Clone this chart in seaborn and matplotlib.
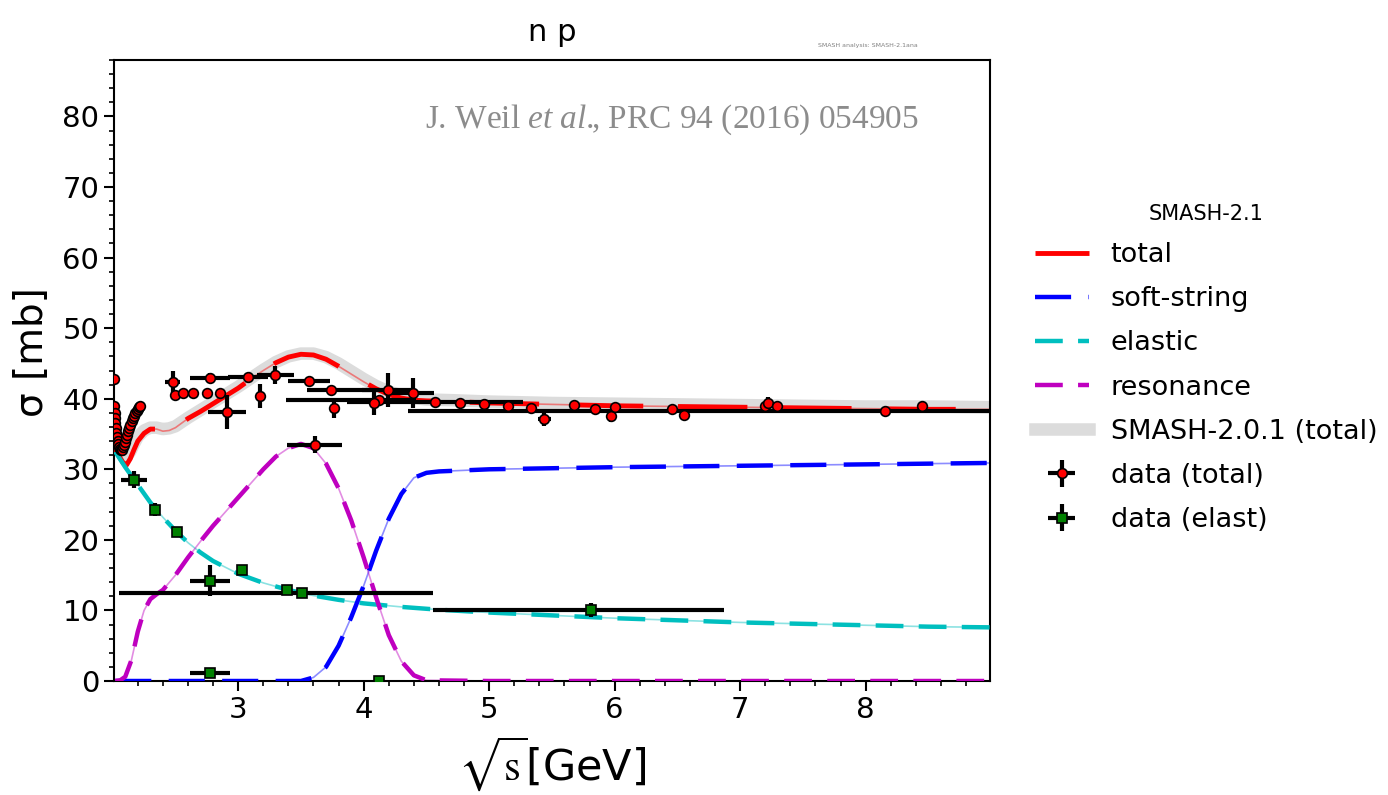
import matplotlib
matplotlib.use('Agg')
import matplotlib.pyplot as plt
import seaborn as sns
from matplotlib.ticker import MultipleLocator

# curvas del modelo (SMASH-2.1)
x_total = [2.02, 2.05, 2.08, 2.11, 2.14, 2.17, 2.2, 2.25, 2.3, 2.35, 2.4, 2.45, 2.5, 2.6, 2.7,
           2.8, 2.9, 3.0, 3.1, 3.2, 3.3, 3.4, 3.5, 3.6, 3.7, 3.8, 3.9, 4.0, 4.1, 4.2, 4.3,
           4.4, 4.5, 4.7, 5.0, 5.5, 6.0, 6.5, 7.0, 7.5, 8.0, 8.5, 9.0]
y_total = [33.0, 31.9, 31.0, 30.6, 31.5, 32.8, 34.0, 35.1, 35.7, 35.7, 35.4, 35.5, 35.9, 37.2, 38.2,
           39.3, 40.4, 41.5, 42.8, 44.0, 45.1, 45.9, 46.3, 46.2, 45.6, 44.6, 43.5, 42.4, 41.4, 40.6, 40.1,
           39.8, 39.7, 39.6, 39.4, 39.2, 39.0, 38.9, 38.8, 38.7, 38.6, 38.5, 38.5]

# SMASH-2.0.1 (total), banda gris
y_old = [34.5, 33.0, 32.0, 31.8, 32.5, 33.6, 34.6, 35.5, 35.9, 35.9, 35.7, 35.8, 36.1, 37.3, 38.4,
         39.5, 40.6, 41.7, 42.9, 44.1, 45.2, 46.0, 46.4, 46.4, 45.9, 45.0, 43.9, 42.8, 41.8, 41.0, 40.5,
         40.1, 39.9, 39.8, 39.6, 39.4, 39.3, 39.2, 39.1, 39.0, 38.9, 38.9, 38.8]

x_string = [2.02, 3.5, 3.6, 3.7, 3.8, 3.9, 4.0, 4.1, 4.2, 4.3, 4.4, 4.5, 4.6, 5.0, 6.0, 7.0, 8.0, 9.0]
y_string = [0.0, 0.0, 0.5, 2.0, 5.0, 9.0, 13.5, 18.5, 23.0, 26.5, 28.8, 29.5, 29.7, 30.0, 30.3, 30.5, 30.7, 30.9]

x_elastic = [2.02, 2.1, 2.2, 2.3, 2.4, 2.5, 2.6, 2.7, 2.8, 3.0, 3.2, 3.4, 3.6, 3.8, 4.0, 4.3, 4.6,
             5.0, 5.5, 6.0, 6.5, 7.0, 7.5, 8.0, 8.5, 9.0]
y_elastic = [32.5, 30.3, 27.8, 25.3, 23.2, 21.3, 19.6, 18.2, 17.0, 15.2, 13.9, 12.9, 12.1, 11.5, 11.0, 10.5, 10.1,
             9.7, 9.3, 8.9, 8.6, 8.3, 8.1, 7.9, 7.7, 7.6]

x_reson = [2.02, 2.06, 2.1, 2.15, 2.2, 2.25, 2.3, 2.35, 2.4, 2.5, 2.6, 2.7, 2.8, 2.9, 3.0, 3.1, 3.2,
           3.3, 3.4, 3.5, 3.6, 3.7, 3.8, 3.9, 4.0, 4.1, 4.2, 4.3, 4.4, 4.5, 5.0, 6.0, 7.0, 8.0, 9.0]
y_reson = [0.0, 0.1, 0.6, 3.0, 7.0, 10.0, 11.6, 12.3, 12.9, 15.0, 17.5, 19.8, 22.0, 24.0, 26.0, 28.0, 30.0,
           31.8, 33.0, 33.6, 33.0, 30.8, 27.3, 22.8, 17.5, 11.8, 6.5, 2.8, 0.8, 0.1, 0.0, 0.0, 0.0, 0.0, 0.0]

# datos experimentales (total)
dat_tot_x = [2.01, 2.012, 2.015, 2.018, 2.022, 2.026, 2.03, 2.035, 2.04, 2.046, 2.053, 2.06, 2.068, 2.076,
             2.084, 2.092, 2.1, 2.108, 2.116, 2.124, 2.132, 2.14, 2.15, 2.16, 2.17, 2.18, 2.19, 2.2, 2.21,
             2.22, 2.48, 2.495, 2.56, 2.64, 2.75, 2.855, 2.775, 2.909, 3.08, 3.176, 3.296, 3.563, 3.61,
             3.737, 3.763, 4.12, 4.08, 4.19, 4.39, 4.566, 4.765, 4.96, 5.15, 5.33, 5.44, 5.673, 5.84,
             5.97, 6.0, 6.46, 6.55, 7.196, 7.22, 7.29, 8.15, 8.45]
dat_tot_y = [42.8, 38.9, 38.0, 37.2, 36.5, 35.8, 35.2, 34.6, 34.0, 33.6, 33.2, 32.9, 32.7, 32.8,
             33.1, 33.5, 33.9, 34.4, 34.9, 35.4, 35.9, 36.3, 36.8, 37.2, 37.6, 38.0, 38.3, 38.6, 38.8,
             38.9, 42.4, 40.6, 40.8, 40.8, 40.8, 40.8, 43.0, 38.1, 43.1, 40.4, 43.4, 42.5, 33.5,
             41.3, 38.7, 39.8, 39.4, 41.2, 40.8, 39.5, 39.4, 39.3, 39.0, 38.7, 37.1, 39.1, 38.5,
             37.5, 38.8, 38.5, 37.7, 39.0, 39.4, 38.9, 38.2, 38.9]
dat_tot_xlo = [0] * 30 + [0.06, 0, 0, 0, 0, 0, 0.16, 0.15, 0.16, 0, 0.15, 0.17, 0.22,
                          0.19, 0, 0.74, 0, 0.2, 0.17, 0.7, 0, 0, 0, 0, 0.05, 0, 0,
                          0, 0, 0, 0, 0, 0, 0, 3.8, 0]
dat_tot_xhi = [0] * 30 + [0.06, 0, 0, 0, 0, 0, 0.16, 0.15, 0.16, 0, 0.15, 0.17, 0.22,
                          0.32, 0, 0.3, 0, 0.2, 0.17, 0.7, 0, 0, 0, 0, 0.05, 0, 0,
                          0, 0, 0, 0, 0, 0, 0, 1.0, 0]
dat_tot_yerr = [0.5] + [0.3] * 29 + [1.6, 0.3, 0.3, 0.3, 0.3, 0.3, 0.6, 2.4, 0.4, 1.7, 1.3, 0.4, 1.2,
                                     0.5, 1.4, 0.4, 1.65, 2.4, 2.1, 0.3, 0.3, 0.3, 0.3, 0.3, 1.0, 0.3, 0.3,
                                     0.8, 0.3, 0.3, 0.6, 0.3, 0.9, 0.3, 0.6, 0.3]

# datos experimentales (elastico)
dat_el_x = [2.17, 2.335, 2.516, 2.775, 2.775, 3.034, 3.39, 3.51, 4.12, 5.81]
dat_el_y = [28.5, 24.3, 21.1, 14.2, 1.2, 15.7, 12.9, 12.5, 0.05, 10.1]
dat_el_xlo = [0.1, 0, 0, 0.16, 0.16, 0, 0, 1.46, 0, 1.26]
dat_el_xhi = [0.1, 0, 0, 0.16, 0.16, 0, 0, 1.04, 0, 1.06]
dat_el_yerr = [1.2, 0.9, 0.6, 2.2, 0.2, 0.4, 0.3, 0.3, 0.2, 1.0]

sns.set_style('ticks')
plt.rcParams['font.family'] = ['DejaVu Sans']
plt.rcParams['lines.scale_dashes'] = False
plt.rcParams['mathtext.fontset'] = 'custom'
plt.rcParams['mathtext.rm'] = 'Liberation Serif'
plt.rcParams['mathtext.it'] = 'Liberation Serif:italic'
for clave in ['text.color', 'axes.labelcolor', 'xtick.color', 'ytick.color', 'axes.edgecolor']:
    plt.rcParams[clave] = 'black'

fig = plt.figure(figsize=(13.88, 7.95), dpi=100)
ax = fig.add_axes([0.0821, 0.1434, 0.6311, 0.7811])

# banda gris de la version anterior
sns.lineplot(x=x_total, y=y_old, ax=ax, color='#dcdcdc', lw=9, legend=False,
             solid_capstyle='projecting', zorder=1)
linea_vieja = ax.lines[-1]


def curva(x, y, color, dashes, lw=3.2):
    # linea fina de fondo y encima la linea gruesa a trazos
    sns.lineplot(x=x, y=y, ax=ax, color=color, lw=1.2, alpha=0.45, legend=False, zorder=2)
    sns.lineplot(x=x, y=y, ax=ax, color=color, lw=lw, legend=False, zorder=3)
    linea = ax.lines[-1]
    linea.set_dashes(dashes)
    return linea


linea_tot = curva(x_total, y_total, 'red', (50, 25), lw=3.5)
linea_str = curva(x_string, y_string, 'blue', (26, 12.5))
linea_el = curva(x_elastic, y_elastic, 'c', (20, 11))
linea_res = curva(x_reson, y_reson, 'm', (20, 11))

err_tot = ax.errorbar(dat_tot_x, dat_tot_y, xerr=[dat_tot_xlo, dat_tot_xhi], yerr=dat_tot_yerr,
                      fmt='o', ms=7, mfc='red', mec='black', mew=1.2, ecolor='black',
                      elinewidth=3, capsize=0, zorder=5)
err_el = ax.errorbar(dat_el_x, dat_el_y, xerr=[dat_el_xlo, dat_el_xhi], yerr=dat_el_yerr,
                     fmt='s', ms=6.5, mfc='green', mec='black', mew=1.2, ecolor='black',
                     elinewidth=3, capsize=0, zorder=5)

ax.set_xlim(2.01, 8.99)
ax.set_ylim(0, 88)
ax.xaxis.set_major_locator(MultipleLocator(1))
ax.xaxis.set_minor_locator(MultipleLocator(0.2))
ax.yaxis.set_major_locator(MultipleLocator(10))
ax.yaxis.set_minor_locator(MultipleLocator(2))
ax.tick_params(which='major', length=7, width=1.5, labelsize=21, direction='out')
ax.tick_params(which='minor', length=3.5, width=1.2, direction='out')
for s in ax.spines.values():
    s.set_linewidth(1.5)

ax.set_xlabel(r'$\sqrt{\mathrm{s}}$[GeV]', fontsize=31, math_fontfamily='stix')
ax.xaxis.set_label_coords(0.5, -0.085)
ax.set_ylabel(r'σ [mb]', fontsize=28)
ax.yaxis.set_label_coords(-0.072, 0.53)
ax.set_title('n p', fontsize=22, pad=14)

ax.text(0.637, 0.903, r'J. Weil $et\ al.\!\!$, PRC 94 (2016) 054905', transform=ax.transAxes,
        ha='center', va='center', fontsize=24, color='#8c8c8c', family='Liberation Serif',
        math_fontfamily='custom')
fig.text(0.625, 0.943, 'SMASH analysis: SMASH-2.1ana', fontsize=4.5, color='gray',
         ha='center', va='center')

ax.legend([linea_tot, linea_str, linea_el, linea_res, linea_vieja, err_tot, err_el],
          ['total', 'soft-string', 'elastic', 'resonance', 'SMASH-2.0.1 (total)',
           'data (total)', 'data (elast)'],
          title='SMASH-2.1', loc='upper left', bbox_to_anchor=(0.728, 0.774),
          bbox_transform=fig.transFigure, frameon=False, fontsize=19.5, title_fontsize=15,
          handlelength=2.0, labelspacing=0.67)

fig.savefig('out.png', dpi=100)
